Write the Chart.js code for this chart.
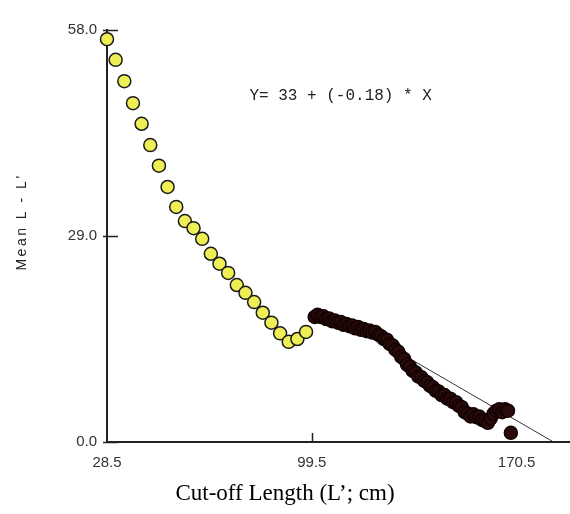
<!DOCTYPE html>
<html><head><meta charset="utf-8">
<script src="https://cdn.jsdelivr.net/npm/chart.js@4.4.1/dist/chart.umd.min.js"></script>
<style>html,body{margin:0;padding:0;background:#fff;} #wrap{width:570px;height:514px;position:relative;}</style>
</head><body><div id="wrap"><canvas id="c" width="570" height="514"></canvas></div>
<script>
// Yellow series (coarse steps)
const yellowX = [28.5, 31.5, 34.5, 37.5, 40.5, 43.5, 46.5, 49.5, 52.5, 55.5, 58.5, 61.5, 64.5, 67.5, 70.5, 73.5, 76.5, 79.5, 82.5, 85.5, 88.5, 91.5, 94.5, 97.5];
const yellowY = [56.7, 53.8, 50.8, 47.7, 44.8, 41.8, 38.9, 35.9, 33.1, 31.1, 30.1, 28.6, 26.5, 25.1, 23.8, 22.1, 21.0, 19.7, 18.2, 16.8, 15.3, 14.1, 14.5, 15.5];
// Dark series (fine steps)
const darkX = [100.5, 101.5, 102.5, 103.5, 104.5, 105.5, 106.5, 107.5, 108.5, 109.5, 110.5, 111.5, 112.5, 113.5, 114.5, 115.5, 116.5, 117.5, 118.5, 119.5, 120.5, 121.5, 122.5, 123.5, 124.5, 125.5, 126.5, 127.5, 128.5, 129.5, 130.5, 131.5, 132.5, 133.5, 134.5, 135.5, 136.5, 137.5, 138.5, 139.5, 140.5, 141.5, 142.5, 143.5, 144.5, 145.5, 146.5, 147.5, 148.5, 149.5, 150.5, 151.5, 152.5, 153.5, 154.5, 155.5, 156.5, 157.5, 158.5, 159.5, 160.5, 161.5, 162.5, 163.5, 164.5, 165.5, 166.5, 167.5, 168.5];
const darkY = [17.6, 17.9, 17.6, 17.7, 17.3, 17.4, 17.0, 17.1, 16.8, 16.9, 16.5, 16.6, 16.3, 16.4, 16.0, 16.2, 15.8, 15.9, 15.6, 15.7, 15.4, 15.5, 15.1, 14.9, 14.5, 14.4, 13.8, 13.6, 13.0, 12.7, 12.0, 11.7, 10.9, 10.6, 10.0, 9.8, 9.2, 9.1, 8.6, 8.4, 7.9, 7.7, 7.2, 7.1, 6.6, 6.6, 6.1, 6.1, 5.6, 5.6, 5.1, 4.9, 4.2, 4.0, 3.6, 3.9, 3.5, 3.6, 3.1, 3.0, 2.7, 3.3, 4.0, 4.4, 4.6, 4.2, 4.6, 4.4, 1.3];
// Fitted line end points
const lineX = [112, 183.3];
const lineY = [16.8, 0];
// Axis ticks and texts
const xTicks = [28.5, 99.5, 170.5];
const yTicks = [0, 29, 58];
const xMin = 28.5, xMax = 189, yMin = 0, yMax = 58;
const equationText = 'Y= 33 + (-0.18) * X';
const equationAt = [109.5, 48.7];
const xTitle = 'Cut-off Length (L\u2019; cm)';
const yTitle = "Mean L - L'";

const toPts = (xs, ys) => xs.map((v, i) => ({x: v, y: ys[i]}));

const extras = {
  id: 'extras',
  afterDatasetsDraw(chart) {
    const {ctx, scales: {x, y}} = chart;
    ctx.save();
    ctx.strokeStyle = '#222';
    ctx.lineWidth = 1.5;
    yTicks.forEach(v => {
      const py = Math.round(y.getPixelForValue(v)) + 0.5;
      ctx.beginPath(); ctx.moveTo(x.left - 4, py); ctx.lineTo(x.left + 11, py); ctx.stroke();
    });
    xTicks.slice(1, -1).forEach(v => {
      const px = Math.round(x.getPixelForValue(v)) + 0.5;
      ctx.beginPath(); ctx.moveTo(px, y.bottom); ctx.lineTo(px, y.bottom - 9); ctx.stroke();
    });
    // equation annotation
    ctx.font = '16px "Liberation Mono"';
    ctx.fillStyle = '#222';
    ctx.textAlign = 'center';
    ctx.textBaseline = 'middle';
    ctx.fillText(equationText, x.getPixelForValue(equationAt[0]), y.getPixelForValue(equationAt[1]));
    // x axis title
    ctx.font = '23px "Liberation Serif"';
    ctx.fillStyle = '#000';
    ctx.fillText(xTitle, 285, 494);
    // y axis title
    ctx.translate(22, 222);
    ctx.rotate(-Math.PI / 2);
    ctx.font = '14px "Liberation Sans"';
    ctx.fillStyle = '#222';
    try { ctx.letterSpacing = '2.5px'; } catch (e) {}
    ctx.fillText(yTitle, 0, 0);
    ctx.restore();
  }
};

new Chart(document.getElementById('c'), {
  type: 'scatter',
  data: {
    datasets: [
      {data: toPts(yellowX, yellowY), pointRadius: 6.5, backgroundColor: '#eeee55', borderColor: '#1a1a1a', borderWidth: 1.5, clip: false, order: 1},
      {data: toPts(darkX, darkY), pointRadius: 6.5, backgroundColor: '#2b0a0a', borderColor: '#120303', borderWidth: 1.5, clip: false, order: 1},
      {type: 'line', data: toPts(lineX, lineY), showLine: true, pointRadius: 0, borderColor: '#333', borderWidth: 1, fill: false, clip: false, order: 3}
    ]
  },
  options: {
    responsive: false,
    animation: false,
    layout: {autoPadding: false, padding: {top: 30, right: 0, left: 0, bottom: 0}},
    plugins: {legend: {display: false}, tooltip: {enabled: false}},
    scales: {
      x: {
        type: 'linear', min: xMin, max: xMax,
        afterBuildTicks: s => { s.ticks = xTicks.map(v => ({value: v})); },
        afterFit: s => { s.height = 72; s.paddingLeft = 0; s.paddingRight = 0; },
        grid: {display: false, drawTicks: false},
        border: {display: true, color: '#222', width: 2},
        ticks: {callback: v => Number(v).toFixed(1), font: {family: 'Liberation Sans', size: 15}, color: '#333', padding: 12, maxRotation: 0, autoSkip: false},
        title: {display: false, text: xTitle}
      },
      y: {
        type: 'linear', min: yMin, max: yMax,
        afterBuildTicks: s => { s.ticks = yTicks.map(v => ({value: v})); },
        afterFit: s => { s.width = 107; },
        grid: {display: false, drawTicks: false},
        border: {display: true, color: '#222', width: 2},
        ticks: {callback: v => Number(v).toFixed(1), font: {family: 'Liberation Sans', size: 15}, color: '#333', padding: 10, autoSkip: false},
        title: {display: false, text: yTitle}
      }
    }
  },
  plugins: [extras]
});
</script>
</body></html>
